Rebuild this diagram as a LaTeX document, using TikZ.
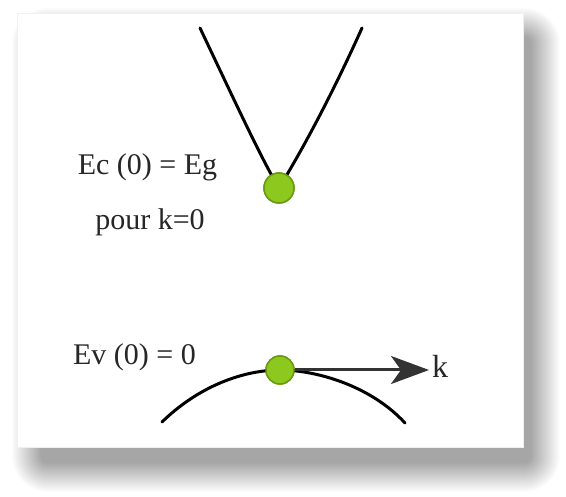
\documentclass[tikz,border=0pt]{standalone}
\usepackage{fontspec}
\setmainfont{Liberation Serif}
\usetikzlibrary{arrows.meta}
\definecolor{dotgreen}{HTML}{8CC81E}
\definecolor{dotedge}{HTML}{6A9A12}
\definecolor{arrowgray}{HTML}{333333}
\tikzset{
  band/.style={line width=3pt, black, line cap=round},
  dotnode/.style={circle, fill=dotgreen, draw=dotedge, line width=1.5pt, minimum size=28pt, inner sep=0pt},
  lbl/.style={font=\fontsize{30}{34}\selectfont, anchor=base, inner sep=0pt, text=black!85},
  kaxis/.style={line width=3pt, arrowgray, -{Stealth[length=38pt,width=28pt,inset=10pt]}},
}
\begin{document}
\begin{tikzpicture}[x=1pt,y=-1pt]
\useasboundingbox (0,0) rectangle (566,497);
\fill[white] (0,0) rectangle (566,497);
% shadow
\foreach \r in {1,...,30}{
  \fill[black, opacity=0.011, rounded corners={\r pt+6pt}] (42-\r,38-\r) rectangle (530+\r,462+\r);
}
% card
\fill[white] (17,13) rectangle (523,447);
\draw[black!6, line width=0.6pt] (17,13) rectangle (523,447);
% conduction band
\coordinate (cl) at (200,28);
\coordinate (cr) at (362,28);
\node[dotnode, minimum size=30pt] (cdot) at (279,188) {};
\draw[band] (cl) .. controls (238,108) and (262,160) .. (cdot.center) .. controls (296,160) and (326,108) .. (cr);
\node[dotnode, minimum size=30pt] at (cdot) {};
% valence band
\coordinate (vl) at (162,422);
\coordinate (vr) at (405,423);
\node[dotnode] (vdot) at (280,370) {};
\draw[band] (vl) .. controls (200,385) and (245,370) .. (vdot.center) .. controls (315,370) and (370,385) .. (vr);
% labels
\node[lbl] (ec) at (147.5,175) {Ec (0) = Eg};
\node[lbl] (pour) at (150,230) {pour k=0};
\node[lbl] (ev) at (134.5,365) {Ev (0) = 0};
\node[lbl, anchor=base west, font=\fontsize{32}{36}\selectfont] (k) at (432,378) {k};
% k axis
\draw[kaxis] (vdot.east) -- ([xshift=-3pt]vdot.east -| k.west);
\node[dotnode] at (vdot) {};
\end{tikzpicture}
\end{document}
